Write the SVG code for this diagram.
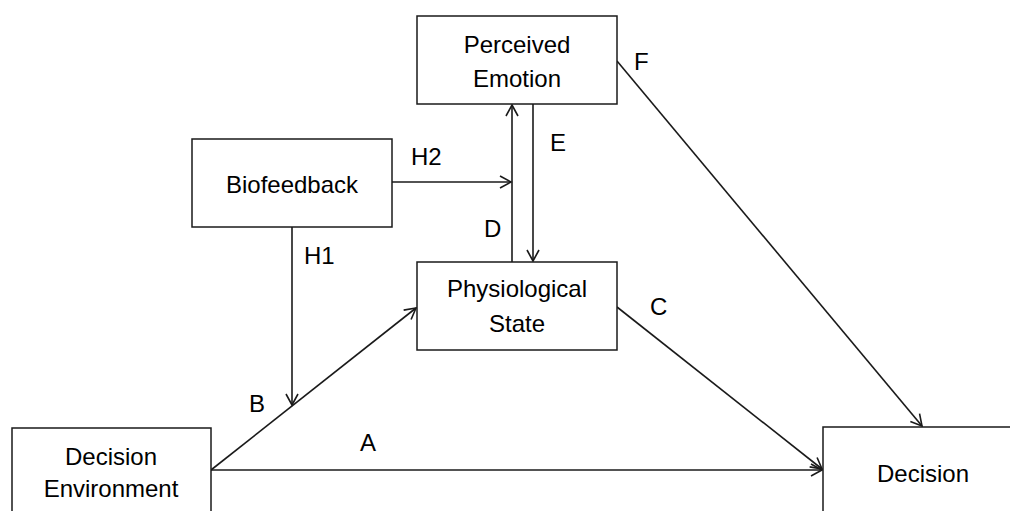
<svg xmlns="http://www.w3.org/2000/svg" width="1010" height="511" viewBox="0 0 1010 511">
  <style>
    .box { fill: #ffffff; stroke: #1a1a1a; stroke-width: 1.5; }
    .txt { font-family: "Liberation Sans", Arial, sans-serif; font-size: 24px; fill: #000000; }
    .mid { text-anchor: middle; }
    .link { fill: none; stroke: #1a1a1a; stroke-width: 1.6; }
    .arrow { marker-end: url(#head); }
  </style>
  <defs>
    <marker id="head" markerUnits="userSpaceOnUse" markerWidth="14" markerHeight="14" viewBox="0 0 14 14" refX="12" refY="7" orient="auto">
      <path d="M1,1 L12,7 L1,13" fill="none" stroke="#1a1a1a" stroke-width="1.6"/>
    </marker>
  </defs>
  <rect width="1010" height="511" fill="#ffffff"/>

  <!-- connectors -->
  <g id="connectors">
    <!-- A: environment to decision -->
    <line class="link arrow" x1="211" y1="470" x2="822" y2="470"/>
    <!-- B: environment to physiological state -->
    <line class="link arrow" x1="211" y1="470" x2="416" y2="308"/>
    <!-- C: physiological state to decision -->
    <line class="link arrow" x1="617" y1="307" x2="822" y2="469"/>
    <!-- F: perceived emotion to decision -->
    <line class="link arrow" x1="617" y1="61" x2="922" y2="426"/>
    <!-- D: physiological state up to perceived emotion -->
    <line class="link arrow" x1="512" y1="262" x2="512" y2="105"/>
    <!-- E: perceived emotion down to physiological state -->
    <line class="link arrow" x1="533" y1="104" x2="533" y2="261"/>
    <!-- H1: biofeedback onto path B -->
    <line class="link arrow" x1="292" y1="227" x2="292" y2="405"/>
    <!-- H2: biofeedback onto path D -->
    <line class="link arrow" x1="392" y1="182" x2="511" y2="182"/>
  </g>

  <!-- path labels -->
  <g id="labels" class="txt">
    <text x="360" y="451">A</text>
    <text x="249" y="412">B</text>
    <text x="650" y="315">C</text>
    <text x="484" y="237">D</text>
    <text x="550" y="151">E</text>
    <text x="634" y="70">F</text>
    <text x="304" y="264">H1</text>
    <text x="411" y="165">H2</text>
  </g>

  <g id="perceived-emotion">
    <rect class="box" x="417" y="16" width="200" height="88"/>
    <text class="txt mid" x="517" y="53">Perceived</text>
    <text class="txt mid" x="517" y="87">Emotion</text>
  </g>

  <g id="biofeedback">
    <rect class="box" x="192" y="139" width="200" height="88"/>
    <text class="txt mid" x="292" y="193">Biofeedback</text>
  </g>

  <g id="physiological-state">
    <rect class="box" x="417" y="262" width="200" height="88"/>
    <text class="txt mid" x="517" y="297">Physiological</text>
    <text class="txt mid" x="517" y="332">State</text>
  </g>

  <g id="decision-environment">
    <rect class="box" x="12" y="428" width="199" height="100"/>
    <text class="txt mid" x="111" y="465">Decision</text>
    <text class="txt mid" x="111" y="497">Environment</text>
  </g>

  <g id="decision">
    <rect class="box" x="823" y="427" width="200" height="100"/>
    <text class="txt mid" x="923" y="482">Decision</text>
  </g>
</svg>
